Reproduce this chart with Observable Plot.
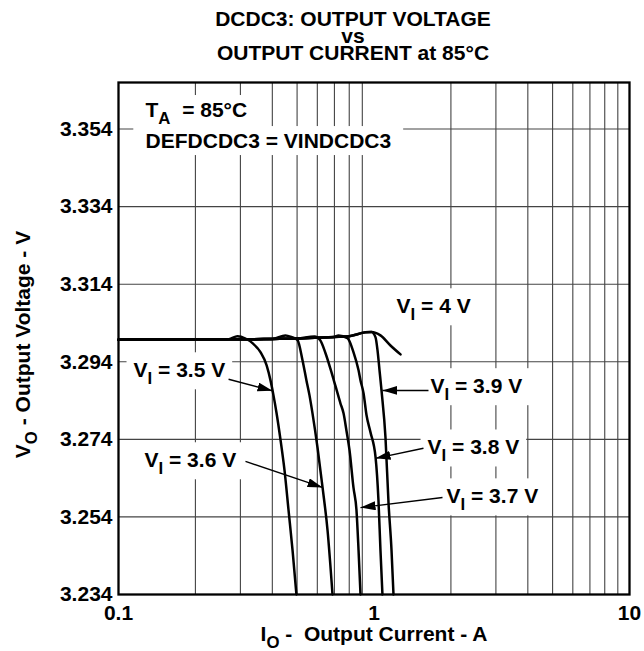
<!DOCTYPE html>
<html><head><meta charset="utf-8">
<script src="https://cdn.jsdelivr.net/npm/d3@7"></script>
<script src="https://cdn.jsdelivr.net/npm/@observablehq/plot@0.6"></script>
<style>
body{margin:0;background:#fff;}
#title{width:644px;height:61px;padding-top:10px;padding-left:62px;box-sizing:border-box;font:bold 21px "Liberation Sans",Arial,sans-serif;text-align:center;color:#000;}
#title div{line-height:17px;height:17px;}
</style></head><body>
<div id="title"><div>DCDC3: OUTPUT VOLTAGE</div><div>vs</div><div>OUTPUT CURRENT at 85°C</div></div>
<div id="chart"></div>
<script>
// ---- axis ticks ----
const yTicks = [3.234, 3.254, 3.274, 3.294, 3.314, 3.334, 3.354];
const xTicks = [0.1, 1, 10];
const xTickLabels = ["0.1", "1", "10"];
const xGrid = [0.2, 0.3, 0.4, 0.5, 0.6, 0.7, 0.8, 0.9, 2, 3, 4, 5, 6, 7, 8, 9];

// ---- series: output current (A) and output voltage (V) ----
const vi35I = [0.1, 0.2, 0.27, 0.292, 0.314, 0.3345, 0.3595, 0.38, 0.3935, 0.404, 0.415, 0.431, 0.4465, 0.463, 0.48, 0.497];
const vi35V = [3.2997, 3.2998, 3.2998, 3.3006, 3.3000, 3.2988, 3.2965, 3.2931, 3.2892, 3.2854, 3.2810, 3.2737, 3.2660, 3.2557, 3.2454, 3.234];
const vi36I = [0.1, 0.2, 0.3, 0.4, 0.45, 0.475, 0.502, 0.525, 0.544, 0.559, 0.5745, 0.601, 0.629, 0.658, 0.688];
const vi36V = [3.2997, 3.2998, 3.2998, 3.2999, 3.3008, 3.3004, 3.2996, 3.2944, 3.2892, 3.2854, 3.2807, 3.2719, 3.2616, 3.2505, 3.234];
const vi37I = [0.1, 0.2, 0.3, 0.4, 0.5, 0.585, 0.615, 0.646, 0.676, 0.707, 0.739, 0.76, 0.78, 0.802, 0.831, 0.854, 0.87, 0.8855];
const vi37V = [3.2997, 3.2998, 3.2998, 3.2999, 3.3000, 3.3005, 3.2996, 3.2962, 3.2921, 3.2877, 3.2833, 3.2807, 3.2763, 3.2712, 3.2616, 3.2557, 3.2454, 3.234];
const vi38I = [0.1, 0.2, 0.3, 0.4, 0.5, 0.6, 0.7, 0.726, 0.7875, 0.831, 0.87, 0.8855, 0.91, 0.935, 0.969, 1.014, 1.041, 1.06, 1.079];
const vi38V = [3.2997, 3.2998, 3.2998, 3.2999, 3.3000, 3.3002, 3.3004, 3.3008, 3.3001, 3.2965, 3.2918, 3.2892, 3.2859, 3.2802, 3.2758, 3.2694, 3.2583, 3.2454, 3.234];
const vi39I = [0.1, 0.2, 0.3, 0.4, 0.5, 0.6, 0.7, 0.8, 0.926, 0.978, 1.014, 1.032, 1.051, 1.07, 1.109, 1.14, 1.171, 1.192];
const vi39V = [3.2997, 3.2998, 3.2998, 3.2999, 3.3000, 3.3002, 3.3004, 3.3006, 3.3016, 3.3017, 3.3003, 3.2970, 3.2918, 3.2866, 3.2745, 3.2575, 3.2454, 3.234];
const vi40I = [0.1, 0.2, 0.3, 0.4, 0.5, 0.6, 0.7, 0.8, 0.926, 0.978, 1.06, 1.16, 1.27];
const vi40V = [3.2997, 3.2998, 3.2998, 3.2999, 3.3000, 3.3002, 3.3004, 3.3006, 3.3016, 3.3017, 3.3008, 3.2982, 3.2959];

// ---- curve labels and arrows ----
const labelText = ["V_I = 3.5 V", "V_I = 3.6 V", "V_I = 3.7 V", "V_I = 3.8 V", "V_I = 3.9 V", "V_I = 4 V"];
const labelI = [0.1145, 0.1264, 1.922, 1.620, 1.664, 1.225];
const labelV = [3.2900, 3.2668, 3.2575, 3.2701, 3.2859, 3.3065];
const arrowFromI = [0.2696, 0.314, 1.854, 1.562, 1.634];
const arrowFromV = [3.2895, 3.2683, 3.2590, 3.2717, 3.2866];
const arrowToI = [0.4006, 0.629, 0.8855, 1.014, 1.079];
const arrowToV = [3.2865, 3.2616, 3.2564, 3.2691, 3.2866];
const noteText = ["T_A  = 85°C", "DEFDCDC3 = VINDCDC3"];
const noteI = [0.1276, 0.1276];
const noteV = [3.3571, 3.3491];
const xLabel = "I_O -  Output Current - A";
const yLabel = "V_O - Output Voltage - V";

const series = [
  {name: "3.5", I: vi35I, V: vi35V},
  {name: "3.6", I: vi36I, V: vi36V},
  {name: "3.7", I: vi37I, V: vi37V},
  {name: "3.8", I: vi38I, V: vi38V},
  {name: "3.9", I: vi39I, V: vi39V},
  {name: "4.0", I: vi40I, V: vi40V}
];
const rows = series.flatMap(s => s.I.map((I, k) => ({series: s.name, I, V: s.V[k]})));
const labels = labelText.map((t, i) => ({t, I: labelI[i], V: labelV[i]}));
const notes = noteText.map((t, i) => ({t, I: noteI[i], V: noteV[i]}));
const arrows = arrowFromI.map((d, i) => ({x1: d, y1: arrowFromV[i], x2: arrowToI[i], y2: arrowToV[i]}));

const chart = Plot.plot({
  width: 644, height: 590,
  marginTop: 21, marginBottom: 57, marginLeft: 118, marginRight: 15,
  style: {fontFamily: '"Liberation Sans", Arial, sans-serif', fontSize: "21px", fontWeight: "bold", background: "white", color: "black"},
  x: {type: "log", domain: [0.1, 10]},
  y: {domain: [3.234, 3.366]},
  marks: [
    Plot.ruleX(xGrid, {stroke: "#444", strokeWidth: 1.1}),
    Plot.ruleY(yTicks.slice(1), {stroke: "#444", strokeWidth: 1.1}),
    Plot.text(notes, {x: "I", y: "V", text: "t", textAnchor: "start", lineAnchor: "bottom", fill: "black"}),
    Plot.text(labels, {x: "I", y: "V", text: "t", textAnchor: "start", lineAnchor: "bottom", fill: "black"}),
    Plot.line(rows, {x: "I", y: "V", z: "series", curve: "monotone-x", stroke: "black", strokeWidth: 2.5}),
    Plot.link(arrows, {x1: "x1", y1: "y1", x2: "x2", y2: "y2", stroke: "black", strokeWidth: 1.4}),
    Plot.frame({stroke: "black", strokeWidth: 2.3}),
    Plot.axisY(yTicks, {tickSize: 0, tickPadding: 6, tickFormat: d3.format(".3f"), label: null}),
    Plot.axisX(xTicks, {tickSize: 0, tickPadding: 11, tickFormat: d => xTickLabels[xTicks.indexOf(d)], label: null}),
    Plot.text([xLabel], {frameAnchor: "bottom", textAnchor: "middle", dy: 46, lineAnchor: "bottom", text: d => d}),
    Plot.text([yLabel], {frameAnchor: "left", textAnchor: "middle", rotate: -90, dx: -89, dy: 6, lineAnchor: "bottom", text: d => d})
  ]
});
document.getElementById("chart").appendChild(chart);

// subscripts: "X_Y rest" -> X, subscript Y, rest
d3.select(chart).selectAll("text").each(function () {
  if (this.querySelector("tspan")) return;
  const m = this.textContent.match(/^(.*?)_(.)(.*)$/);
  if (!m) return;
  const sel = d3.select(this);
  sel.text(null);
  sel.append("tspan").text(m[1]);
  sel.append("tspan").attr("dy", 7).attr("font-size", "80%").text(m[2]);
  sel.append("tspan").attr("dy", -7).text(m[3]);
});

// white boxes behind the in-plot annotations (they interrupt the grid)
const noteSet = new Set(noteText.map(s => s.replace("_", "")));
const labelSet = new Set(labelText.map(s => s.replace("_", "")));
d3.select(chart).selectAll("text").each(function () {
  const s = this.textContent;
  const isNote = noteSet.has(s), isLabel = labelSet.has(s);
  if (!isNote && !isLabel) return;
  const b = this.getBBox();
  const px = isNote ? 12 : 7, pt = isNote ? 3 : 6, pb = isNote ? 3 : 1;
  const r = document.createElementNS("http://www.w3.org/2000/svg", "rect");
  r.setAttribute("x", b.x - px);
  r.setAttribute("y", b.y - pt);
  r.setAttribute("width", b.width + 2 * px);
  r.setAttribute("height", b.height + pt + pb);
  r.setAttribute("fill", "white");
  if (this.getAttribute("transform")) r.setAttribute("transform", this.getAttribute("transform"));
  this.parentNode.insertBefore(r, this.parentNode.firstChild);
});

// filled triangular arrow heads
const defs = d3.select(chart).insert("defs", ":first-child");
defs.append("marker").attr("id", "tri").attr("viewBox", "0 0 10 10").attr("refX", 10).attr("refY", 5)
  .attr("markerWidth", 15).attr("markerHeight", 9).attr("markerUnits", "userSpaceOnUse")
  .attr("preserveAspectRatio", "none").attr("orient", "auto")
  .append("path").attr("d", "M0,0L10,5L0,10Z").attr("fill", "black");
d3.select(chart).selectAll('g[aria-label="link"] path').attr("marker-end", "url(#tri)");
</script>
</body></html>
